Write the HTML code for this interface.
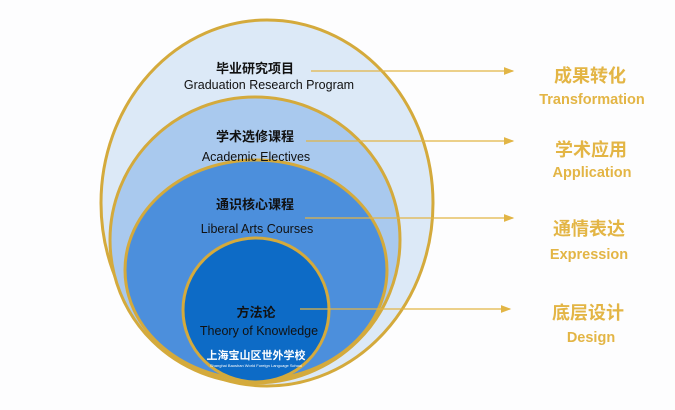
<!DOCTYPE html>
<html><head><meta charset="utf-8"><style>
html,body{margin:0;padding:0;background:#fdfdfe;}
svg{display:block}
.cn{font-family:"Liberation Sans","Noto Sans CJK SC",sans-serif;font-weight:bold}
.en{font-family:"Liberation Sans","Noto Sans CJK SC",sans-serif}
</style></head><body>
<svg width="675" height="410" viewBox="0 0 675 410">
<defs><marker id="a" markerWidth="8" markerHeight="8" refX="7" refY="4" orient="auto"><path d="M0,1 L8,4 L0,7 z" fill="#e2b545"/></marker></defs>
<ellipse cx="267" cy="203" rx="166" ry="183" fill="#dce9f7" stroke="#d4aa3c" stroke-width="3"/>
<ellipse cx="255" cy="240" rx="145" ry="143" fill="#a9c9ee" stroke="#d4aa3c" stroke-width="3"/>
<ellipse cx="256" cy="270" rx="131" ry="110" fill="#4c8fdc" stroke="#d4aa3c" stroke-width="3"/>
<ellipse cx="256" cy="310" rx="73" ry="72" fill="#0d6bc6" stroke="#d4aa3c" stroke-width="3"/>
<g stroke="#e2b545" stroke-width="1.3" marker-end="url(#a)">
<line x1="311" y1="71" x2="513" y2="71"/>
<line x1="306" y1="141" x2="513" y2="141"/>
<line x1="305" y1="218" x2="513" y2="218"/>
<line x1="300" y1="309" x2="510" y2="309"/>
</g>
<g text-anchor="middle" fill="#111">
<text x="255" y="73" class="cn" font-size="13">毕业研究项目</text>
<text x="269" y="89" class="en" font-size="12.5">Graduation Research Program</text>
<text x="255" y="141" class="cn" font-size="13">学术选修课程</text>
<text x="256" y="161" class="en" font-size="12.5">Academic Electives</text>
<text x="255" y="209" class="cn" font-size="13">通识核心课程</text>
<text x="257" y="233" class="en" font-size="12.5">Liberal Arts Courses</text>
<text x="256" y="317" class="cn" font-size="13">方法论</text>
<text x="259" y="335" class="en" font-size="12.5">Theory of Knowledge</text>
</g>
<text x="256" y="359" text-anchor="middle" class="cn" font-size="11" fill="#fff">上海宝山区世外学校</text>
<text x="256" y="367" text-anchor="middle" class="en" font-size="4" fill="#fff">Shanghai Baoshan World Foreign Language School</text>
<g text-anchor="middle" fill="#e3b545">
<text x="590" y="82" class="cn" font-size="18">成果转化</text>
<text x="592" y="104" class="cn" font-size="14.5">Transformation</text>
<text x="591" y="156" class="cn" font-size="18">学术应用</text>
<text x="592" y="177" class="cn" font-size="14.5">Application</text>
<text x="589" y="235" class="cn" font-size="18">通情表达</text>
<text x="589" y="259" class="cn" font-size="14.5">Expression</text>
<text x="588" y="319" class="cn" font-size="18">底层设计</text>
<text x="591" y="342" class="cn" font-size="14.5">Design</text>
</g>
</svg>
</body></html>
